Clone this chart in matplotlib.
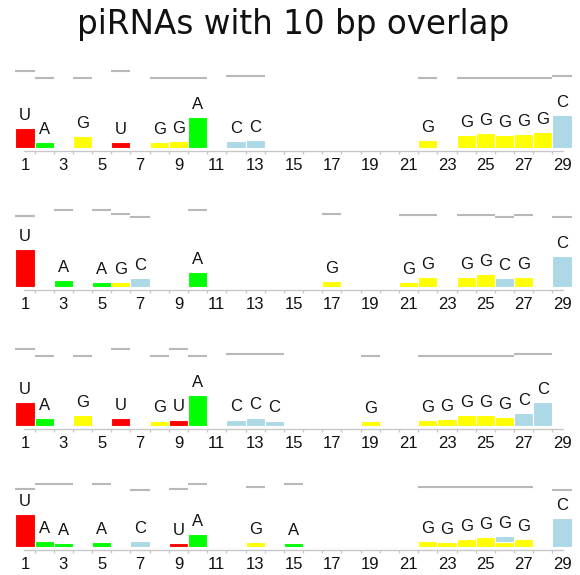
import matplotlib.pyplot as plt

plt.rcParams['font.family'] = ['Liberation Sans', 'DejaVu Sans']

# nucleotide colours
NT_COLORS = {'U': '#ff0000', 'A': '#00ff00', 'G': '#ffff00', 'C': '#add8e6'}

# Panel 1
p1_pos = [1, 2, 4, 6, 8, 9, 10, 12, 13, 22, 24, 25, 26, 27, 28, 29]
p1_nt = ['U', 'A', 'G', 'U', 'G', 'G', 'A', 'C', 'C', 'G', 'G', 'G', 'G', 'G', 'G', 'C']
p1_freq = [0.40, 0.12, 0.24, 0.12, 0.12, 0.14, 0.62, 0.14, 0.16, 0.16, 0.26, 0.30, 0.26, 0.28, 0.32, 0.66]
p1_mark = [1.54, 1.41, 1.40, 1.54, 1.40, 1.40, 1.41, 1.45, 1.45, 1.40, 1.40, 1.40, 1.40, 1.40, 1.41, 1.45]

# Panel 2
p2_pos = [1, 3, 5, 6, 7, 10, 17, 21, 22, 24, 25, 26, 27, 29]
p2_nt = ['U', 'A', 'A', 'G', 'C', 'A', 'G', 'G', 'G', 'G', 'G', 'C', 'G', 'C']
p2_freq = [0.76, 0.14, 0.10, 0.10, 0.18, 0.30, 0.12, 0.10, 0.20, 0.20, 0.26, 0.18, 0.20, 0.62]
p2_mark = [1.42, 1.54, 1.54, 1.46, 1.40, 1.54, 1.46, 1.45, 1.45, 1.45, 1.45, 1.40, 1.45, 1.40]

# Panel 3
p3_pos = [1, 2, 4, 6, 8, 9, 10, 12, 13, 14, 19, 22, 23, 24, 25, 26, 27, 28]
p3_nt = ['U', 'A', 'G', 'U', 'G', 'U', 'A', 'C', 'C', 'C', 'G', 'G', 'G', 'G', 'G', 'G', 'C', 'C']
p3_freq = [0.48, 0.16, 0.22, 0.16, 0.11, 0.13, 0.62, 0.13, 0.17, 0.11, 0.10, 0.12, 0.14, 0.22, 0.22, 0.18, 0.26, 0.48]
p3_mark = [1.54, 1.40, 1.40, 1.54, 1.40, 1.54, 1.40, 1.45, 1.45, 1.45, 1.40, 1.40, 1.40, 1.40, 1.40, 1.40, 1.45, 1.45]

# Panel 4 (position 26 has a C stacked on top of the G)
p4_pos = [1, 2, 3, 5, 7, 9, 10, 13, 15, 22, 23, 24, 25, 26, 27, 29]
p4_nt = ['U', 'A', 'A', 'A', 'C', 'U', 'A', 'G', 'A', 'G', 'G', 'G', 'G', 'G', 'G', 'C']
p4_freq = [0.66, 0.12, 0.08, 0.10, 0.12, 0.08, 0.26, 0.10, 0.08, 0.12, 0.10, 0.16, 0.20, 0.10, 0.16, 0.58]
p4_mark = [1.17, 1.27, 1.27, 1.27, 1.15, 1.17, 1.27, 1.20, 1.27, 1.20, 1.20, 1.20, 1.20, 1.20, 1.20, 1.15]
p4_stack_pos = [26]
p4_stack_nt = ['C']
p4_stack_freq = [0.12]

panels = [
    (p1_pos, p1_nt, p1_freq, p1_mark, [], [], []),
    (p2_pos, p2_nt, p2_freq, p2_mark, [], [], []),
    (p3_pos, p3_nt, p3_freq, p3_mark, [], [], []),
    (p4_pos, p4_nt, p4_freq, p4_mark, p4_stack_pos, p4_stack_nt, p4_stack_freq),
]

W, H = 580, 575
PX = 50.0          # pixels per unit of frequency
AX_H = 90          # axes height in px
GAP = 3            # gap between bar bottoms and axis line, px
line_y = [151, 290, 429, 550]   # axis line positions from top, px

fig = plt.figure(figsize=(W / 100, H / 100), dpi=100)
# title is drawn wide in the original, DejaVu gets closer to that shape
fig.text(293 / W, 1 - 34 / H, 'piRNAs with 10 bp overlap', fontsize=23.5,
         family=['DejaVu Sans'], ha='center', va='baseline', color='#111111')

left = (25 - 9.59) / W
width = 19.18 * 29 / W

for (pos, nt, freq, mark, spos, snt, sfreq), ly in zip(panels, line_y):
    ax = fig.add_axes([left, 1 - ly / H, width, AX_H / H])
    ax.set_xlim(0.5, 29.5)
    ax.set_ylim(-GAP / PX, (AX_H - GAP) / PX)

    ax.bar(pos, freq, width=1, color=[NT_COLORS[n] for n in nt],
           edgecolor='white', linewidth=0.8)
    tops = dict(zip(pos, freq))
    if spos:
        ax.bar(spos, sfreq, bottom=[tops[p] for p in spos], width=1,
               color=[NT_COLORS[n] for n in snt], edgecolor='white', linewidth=0.8)
        for p, f in zip(spos, sfreq):
            tops[p] += f

    for p, n in zip(pos, nt):
        ax.annotate(n, (p, tops[p]), xytext=(0, 5.8), textcoords='offset points',
                    ha='center', va='baseline', fontsize=12, color='#111111')

    for p, m in zip(pos, mark):
        ax.plot([p - 0.5, p + 0.5], [m, m], color='#b8b8b8', lw=1.5,
                solid_capstyle='butt', clip_on=False)

    for s in ['top', 'right', 'left']:
        ax.spines[s].set_visible(False)
    ax.spines['bottom'].set_color('#c8c8c8')
    ax.spines['bottom'].set_linewidth(1)
    ax.spines['bottom'].set_bounds(0.95, 29.05)
    ax.set_yticks([])
    ax.set_xticks(range(1, 30, 2))
    ax.set_xticks([i + 0.5 for i in range(1, 29)], minor=True)
    ax.tick_params(axis='x', which='major', length=0, pad=5, labelsize=12,
                   labelcolor='#111111')
    ax.tick_params(axis='x', which='minor', length=2, color='#c8c8c8', width=1)
    ax.patch.set_alpha(0)

fig.savefig('out.png', dpi=100)
